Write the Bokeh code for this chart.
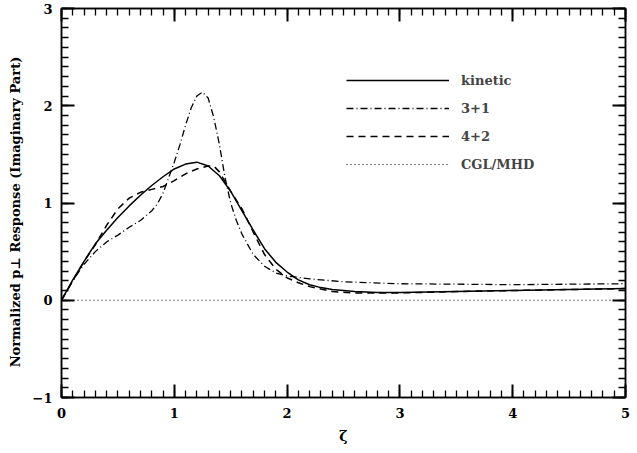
from bokeh.plotting import figure
from bokeh.models import Range1d, LinearAxis, SingleIntervalTicker
from bokeh.embed import file_html
from bokeh.resources import INLINE

# ---- data ----
kin_x = [0, 0.1, 0.2, 0.3, 0.4, 0.5, 0.6, 0.7, 0.8, 0.9, 1.0, 1.1, 1.2, 1.3, 1.4, 1.5,
         1.6, 1.7, 1.8, 1.9, 2.0, 2.1, 2.2, 2.3, 2.4, 2.6, 2.8, 3.0, 3.5, 4.0, 4.5, 5.0]
kin_y = [0, 0.21, 0.40, 0.58, 0.72, 0.85, 0.97, 1.08, 1.18, 1.27, 1.35, 1.40, 1.42, 1.38,
         1.28, 1.12, 0.92, 0.72, 0.53, 0.39, 0.29, 0.21, 0.16, 0.13, 0.11, 0.09, 0.08,
         0.08, 0.09, 0.10, 0.11, 0.12]

m31_x = [0, 0.1, 0.2, 0.3, 0.4, 0.5, 0.6, 0.7, 0.8, 0.85, 0.9, 0.95, 1.0, 1.05, 1.1, 1.15,
         1.2, 1.25, 1.3, 1.35, 1.4, 1.45, 1.5, 1.55, 1.6, 1.7, 1.8, 1.9, 2.0, 2.2, 2.5, 3.0,
         4.0, 5.0]
m31_y = [0, 0.20, 0.37, 0.50, 0.60, 0.67, 0.75, 0.82, 0.92, 0.99, 1.10, 1.26, 1.42, 1.60,
         1.80, 1.98, 2.10, 2.14, 2.08, 1.88, 1.60, 1.26, 1.00, 0.82, 0.68, 0.47, 0.35, 0.28,
         0.25, 0.22, 0.19, 0.17, 0.16, 0.17]

m42_x = [0, 0.1, 0.2, 0.3, 0.4, 0.5, 0.6, 0.7, 0.8, 0.9, 1.0, 1.1, 1.2, 1.3, 1.35, 1.4,
         1.5, 1.6, 1.7, 1.8, 1.9, 2.0, 2.1, 2.2, 2.4, 2.6, 3.0, 3.5, 4.0, 4.5, 5.0]
m42_y = [0, 0.20, 0.40, 0.57, 0.77, 0.94, 1.05, 1.11, 1.14, 1.17, 1.23, 1.30, 1.35, 1.38,
         1.38, 1.32, 1.12, 0.94, 0.70, 0.47, 0.32, 0.23, 0.18, 0.14, 0.09, 0.075, 0.075,
         0.09, 0.10, 0.11, 0.12]

cgl_x = [0, 5]
cgl_y = [0, 0]

labels = ["kinetic", "3+1", "4+2", "CGL/MHD"]

x_ticks = [0, 1, 2, 3, 4, 5]
y_ticks = [-1, 0, 1, 2, 3]
y_tick_labels = {-1: "\u22121", 0: "0", 1: "1", 2: "2", 3: "3"}

X0, X1, Y0, Y1 = 0, 5, -1, 3

FONT = "DejaVu Serif"

p = figure(width=633, height=446, output_backend="svg", toolbar_location=None,
           x_range=Range1d(X0, X1), y_range=Range1d(Y0, Y1),
           min_border_left=61, min_border_right=8, min_border_top=8, min_border_bottom=40,
           x_axis_label="ζ",
           y_axis_label="Normalized p⊥ Response (Imaginary Part)\u00a0\u00a0\u00a0\u00a0")
p.xgrid.visible = False
p.ygrid.visible = False
p.outline_line_color = "black"
p.outline_line_width = 1.5


def style_axis(ax, ticks, show_labels=True):
    ax.ticker = SingleIntervalTicker(interval=1, num_minor_ticks=10)
    ax.major_tick_in = 13
    ax.major_tick_out = 0
    ax.minor_tick_in = 7
    ax.minor_tick_out = 0
    ax.major_tick_line_color = "black"
    ax.minor_tick_line_color = "black"
    ax.major_tick_line_width = 2
    ax.minor_tick_line_width = 1.3
    ax.axis_line_color = "black"
    ax.axis_line_width = 1.5
    ax.major_label_text_font = FONT
    ax.major_label_text_font_style = "bold"
    ax.major_label_text_font_size = "13px"
    ax.major_label_text_color = "black"
    ax.axis_label_text_font = FONT
    ax.axis_label_text_font_style = "bold"
    ax.axis_label_text_font_size = "13px"
    ax.axis_label_text_color = "black"
    ax.major_label_standoff = 10
    ax.axis_label_standoff = 7
    if not show_labels:
        ax.major_label_overrides = {t: "" for t in ticks}
        ax.major_label_standoff = 0
        ax.major_label_text_font_size = "0px"


style_axis(p.xaxis[0], x_ticks)
style_axis(p.yaxis[0], y_ticks)
p.yaxis[0].major_label_overrides = y_tick_labels
p.yaxis[0].major_label_standoff = 9
p.xaxis[0].axis_label_text_font_size = "14px"

top = LinearAxis()
style_axis(top, x_ticks, show_labels=False)
right = LinearAxis()
style_axis(right, y_ticks, show_labels=False)
p.add_layout(top, "above")
p.add_layout(right, "right")

p.line(kin_x, kin_y, line_color="black", line_width=1.5, legend_label=labels[0])
p.line(m31_x, m31_y, line_color="black", line_width=1.3, line_dash="7 3 1 3", legend_label=labels[1])
p.line(m42_x, m42_y, line_color="black", line_width=1.5, line_dash="7 5", legend_label=labels[2])
p.line(cgl_x, cgl_y, line_color="black", line_width=1.2, line_dash="1 3", legend_label=labels[3])

lg = p.legend[0]
lg.location = (285, 223)
lg.border_line_color = None
lg.background_fill_alpha = 0
lg.padding = 0
lg.margin = 0
lg.spacing = 8
lg.glyph_width = 103
lg.glyph_height = 20
lg.label_height = 20
lg.label_standoff = 12
lg.label_text_font = FONT
lg.label_text_font_style = "bold"
lg.label_text_font_size = "13px"

open("out.html", "w").write(file_html(p, INLINE))
